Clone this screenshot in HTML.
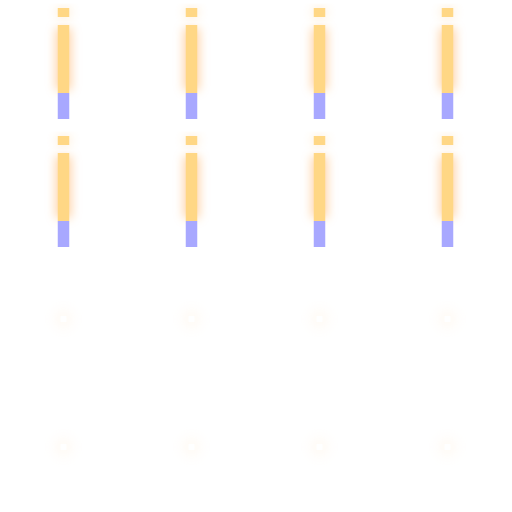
<!DOCTYPE html>
<html><head><meta charset="utf-8"><style>
html,body{margin:0;padding:0;background:#fff;width:512px;height:512px;overflow:hidden}
svg{display:block}
</style></head><body>
<svg id="chart" width="512" height="512" xmlns="http://www.w3.org/2000/svg">
<defs>
<filter id="glow" x="-300%" y="-50%" width="700%" height="200%">
<feGaussianBlur stdDeviation="5"/>
</filter>
<filter id="faint" x="-300%" y="-300%" width="700%" height="700%">
<feGaussianBlur stdDeviation="7"/>
</filter>
</defs>
</svg>
<script>
// per panel (row-major, 4x4): values in px-units of a 128px panel
const capValues   = [9,9,9,9, 9,9,9,9, 0,0,0,0, 0,0,0,0];
const mainValues  = [68,68,68,68, 68,68,68,68, 0,0,0,0, 0,0,0,0];
const baseValues  = [26,26,26,26, 26,26,26,26, 0,0,0,0, 0,0,0,0];
const gapValues   = [8,8,8,8, 8,8,8,8, 0,0,0,0, 0,0,0,0];

const svg = document.getElementById('chart');
const NS = 'http://www.w3.org/2000/svg';
const cell = 128, barW = 11.5, bottom = 119;
function xCenter(i){ return (i % 4) * cell + 63.5; }
function yBase(i){ return Math.floor(i / 4) * cell + bottom; }
function rect(x,y,w,h,fill,name,filt,op){
  const r = document.createElementNS(NS,'rect');
  r.setAttribute('x',x); r.setAttribute('y',y);
  r.setAttribute('width',w); r.setAttribute('height',h);
  r.setAttribute('fill',fill);
  if(filt) r.setAttribute('filter',filt);
  if(op!==undefined) r.setAttribute('opacity',op);
  
  
  svg.appendChild(r);
}
for(let i=0;i<16;i++){
  const cx = xCenter(i), yb = yBase(i), x = cx - barW/2;
  if(mainValues[i] > 0){
    const yBlue = yb - baseValues[i];
    const yMain = yBlue - mainValues[i];
    const yCap = yMain - gapValues[i] - capValues[i];
    rect(x-2, yMain+3, barW+4, mainValues[i]-6, '#ffb060', 'bar-glow-'+i, 'url(#glow)', 0.55);
    rect(x-1, yCap, barW+2, capValues[i], '#ffc070', 'cap-glow-'+i, 'url(#glow)', 0.3);
    rect(x, yMain, barW, mainValues[i], '#ffd785', 'bar-main-'+i);
    rect(x, yCap, barW, capValues[i], '#ffd785', 'bar-cap-'+i);
    rect(x, yBlue, barW, baseValues[i], '#a8a8ff', 'bar-base-'+i);
  } else {
    const cy = Math.floor(i/4)*cell + 63;
    rect(cx-6, cy-6, 12, 12, '#ffe2c0', 'faint-marker-'+i, 'url(#faint)', 0.35);
    rect(cx-3, cy-3, 6, 6, '#ffffff', 'faint-marker-core-'+i);
  }
}
</script>
</body></html>
